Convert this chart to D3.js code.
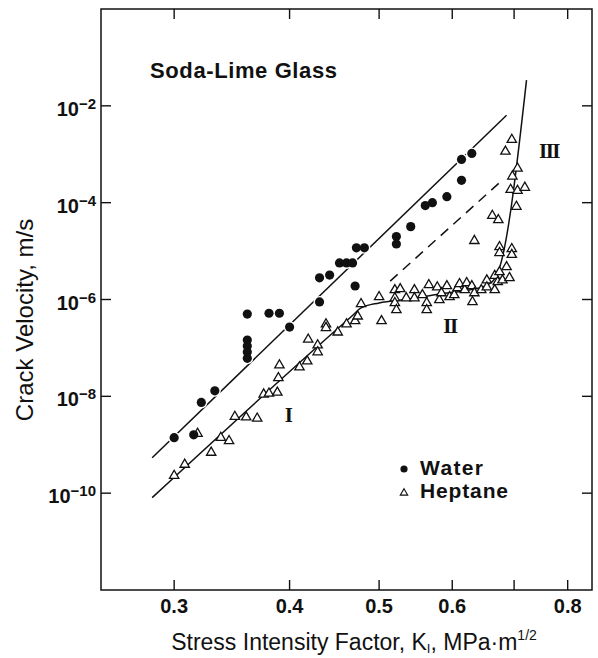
<!DOCTYPE html>
<html><head><meta charset="utf-8">
<script src="https://cdn.jsdelivr.net/npm/d3@7"></script>
<style>body{margin:0;background:#fff}svg{display:block}</style>
</head><body><svg id="c" width="598" height="658"></svg>
<script>
// ---- data ----
const xTicks = [0.3, 0.4, 0.5, 0.6, 0.7, 0.8];
const xTickLabels = ["0.3", "0.4", "0.5", "0.6", "", "0.8"];
const yTicks = [1e-2, 1e-4, 1e-6, 1e-8, 1e-10];
const yTickExponents = ["\u22122", "\u22124", "\u22126", "\u22128", "\u221210"];

const waterK = [0.300, 0.315, 0.321, 0.332, 0.360, 0.360, 0.360, 0.360, 0.360, 0.380, 0.390, 0.400, 0.431, 0.431, 0.442, 0.453, 0.461, 0.468, 0.471, 0.4725, 0.482, 0.522, 0.522, 0.541, 0.561, 0.571, 0.592, 0.614, 0.614, 0.630];
const waterV = [1.4e-9, 1.6e-9, 7.5e-9, 1.3e-8, 5.0e-7, 1.45e-7, 1.1e-7, 8.2e-8, 6.1e-8, 5.2e-7, 5.2e-7, 2.7e-7, 8.9e-7, 2.8e-6, 3.2e-6, 5.7e-6, 5.7e-6, 5.7e-6, 1.9e-6, 1.17e-5, 1.17e-5, 2.0e-5, 1.4e-5, 3.2e-5, 8.7e-5, 1.0e-4, 1.33e-4, 2.9e-4, 7.8e-4, 1.04e-3];

const heptaneK = [0.300, 0.308, 0.318, 0.329, 0.337, 0.344, 0.349, 0.359, 0.369, 0.375, 0.380, 0.388, 0.389, 0.390, 0.410, 0.418, 0.419, 0.429, 0.429, 0.438, 0.438, 0.451, 0.461, 0.471, 0.474, 0.478, 0.500, 0.503,
  0.520, 0.520, 0.520, 0.522, 0.527, 0.535, 0.546, 0.546, 0.557, 0.563, 0.563, 0.566, 0.578, 0.581, 0.584, 0.592, 0.596, 0.603, 0.608, 0.611, 0.619, 0.622, 0.630, 0.631, 0.634, 0.645, 0.654, 0.654, 0.667, 0.667, 0.675, 0.672, 0.680, 0.692, 0.687,
  0.675, 0.675, 0.696, 0.696, 0.634, 0.663, 0.673, 0.685, 0.696, 0.706, 0.697, 0.694, 0.706, 0.719, 0.704];
const heptaneV = [2.3e-10, 3.9e-10, 1.7e-9, 6.9e-10, 1.4e-9, 1.2e-9, 3.8e-9, 3.7e-9, 3.5e-9, 1.1e-8, 1.15e-8, 1.2e-8, 2.4e-8, 4.4e-8, 4.0e-8, 5.3e-8, 1.5e-7, 1.14e-7, 8.2e-8, 3.1e-7, 2.6e-7, 2.1e-7, 3.1e-7, 3.6e-7, 4.5e-7, 8.1e-7, 1.13e-6, 3.6e-7,
  1.57e-6, 1.07e-6, 8.5e-7, 6.1e-7, 1.65e-6, 1.07e-6, 1.57e-6, 1.07e-6, 1.24e-6, 8.5e-7, 6.1e-7, 2.0e-6, 1.8e-6, 9.8e-7, 1.36e-6, 1.9e-6, 1.13e-6, 1.24e-6, 1.73e-6, 2.1e-6, 1.57e-6, 2.2e-6, 1.9e-6, 8.9e-7, 1.36e-6, 1.57e-6, 2.5e-6, 1.8e-6, 3.1e-6, 1.57e-6, 3.7e-6, 2.3e-6, 2.5e-6, 2.8e-6, 4.7e-6,
  1.22e-5, 9.2e-6, 1.11e-5, 8.4e-6, 1.63e-5, 5.4e-5, 4.4e-5, 1.14e-3, 2.0e-3, 5.1e-4, 3.5e-4, 1.86e-4, 1.77e-4, 2.05e-4, 8.3e-5];

const waterFitK = [0.284, 0.687];
const waterFitV = [5.4e-10, 6.4e-3];
const heptaneFitK = [0.284, 0.453, 0.467, 0.478, 0.500, 0.539, 0.581, 0.626, 0.655, 0.668, 0.675, 0.722];
const heptaneFitV = [8.1e-11, 2.7e-7, 4.5e-7, 6.7e-7, 8.5e-7, 1.02e-6, 1.3e-6, 1.57e-6, 2.0e-6, 2.8e-6, 4.5e-6, 3.4e-2];
const extrapK = [0.514, 0.679];
const extrapV = [2.4e-6, 2.86e-4];

// ---- drawing ----
const svg = d3.select("#c");
const INK = "#111";
const SANS = "'Liberation Sans', Arial, Helvetica, sans-serif";
const SERIF = "'Liberation Serif', 'Times New Roman', serif";

const x = d3.scaleLog().domain([0.25, 0.85]).range([101, 592]);
const y = d3.scaleLog().domain([1e-12, 1]).range([590, 9]);
const [x0, x1] = x.range();
const [y0, y1] = y.range();

svg.append("rect").attr("width", 598).attr("height", 658).attr("fill", "#fff");

// frame
svg.append("rect").attr("x", x0).attr("y", y1).attr("width", x1 - x0).attr("height", y0 - y1)
  .attr("fill", "none").attr("stroke", INK).attr("stroke-width", 1.5);

// x ticks (bottom + top, inward)
const tk = 10;
xTicks.forEach((t, i) => {
  const px = x(t);
  svg.append("line").attr("x1", px).attr("x2", px).attr("y1", y0).attr("y2", y0 - tk).attr("stroke", INK).attr("stroke-width", 1.4);
  svg.append("line").attr("x1", px).attr("x2", px).attr("y1", y1).attr("y2", y1 + tk).attr("stroke", INK).attr("stroke-width", 1.4);
  if (xTickLabels[i]) {
    svg.append("text").attr("x", px).attr("y", 613).attr("text-anchor", "middle")
      .attr("font-family", SANS).attr("font-weight", "bold").attr("font-size", 20).attr("fill", INK)
      .text(xTickLabels[i]);
  }
});

// y ticks (left + right, inward)
yTicks.forEach((t, i) => {
  const py = y(t);
  svg.append("line").attr("x1", x0).attr("x2", x0 + tk).attr("y1", py).attr("y2", py).attr("stroke", INK).attr("stroke-width", 1.4);
  svg.append("line").attr("x1", x1).attr("x2", x1 - tk).attr("y1", py).attr("y2", py).attr("stroke", INK).attr("stroke-width", 1.4);
  const t0 = svg.append("text").attr("x", 96).attr("y", py + 10).attr("text-anchor", "end")
    .attr("font-family", SANS).attr("font-weight", "bold").attr("font-size", 20).attr("fill", INK);
  t0.append("tspan").text("10");
  t0.append("tspan").attr("dy", -7).attr("font-size", 15).text(yTickExponents[i]);
});

// axis titles
const xt = svg.append("text").attr("x", 354).attr("y", 650).attr("text-anchor", "middle")
  .attr("font-family", SANS).attr("font-size", 23).attr("fill", INK);
xt.append("tspan").text("Stress Intensity Factor, K");
xt.append("tspan").attr("dy", 3).attr("font-size", 13).text("I");
xt.append("tspan").attr("dy", -3).text(", MPa\u00b7m");
xt.append("tspan").attr("dy", -10).attr("font-size", 14).text("1/2");

svg.append("text").attr("transform", "translate(33,320) rotate(-90)").attr("text-anchor", "middle")
  .attr("font-family", SANS).attr("font-size", 24).attr("fill", INK)
  .text("Crack Velocity, m/s");

// title
svg.append("text").attr("x", 150).attr("y", 78)
  .attr("font-family", SANS).attr("font-weight", "bold").attr("font-size", 22).attr("fill", INK)
  .attr("textLength", 187).attr("lengthAdjust", "spacing")
  .text("Soda-Lime Glass");

// lines
const zip = (a, b) => a.map((v, i) => [v, b[i]]);
const line = d3.line().x(d => x(d[0])).y(d => y(d[1]));
const curve = d3.line().x(d => x(d[0])).y(d => y(d[1])).curve(d3.curveMonotoneX);

svg.append("path").datum(zip(waterFitK, waterFitV)).attr("d", line)
  .attr("fill", "none").attr("stroke", INK).attr("stroke-width", 1.5);
svg.append("path").datum(zip(heptaneFitK, heptaneFitV)).attr("d", curve)
  .attr("fill", "none").attr("stroke", INK).attr("stroke-width", 1.5);
svg.append("path").datum(zip(extrapK, extrapV)).attr("d", line)
  .attr("fill", "none").attr("stroke", INK).attr("stroke-width", 1.5).attr("stroke-dasharray", "10,7");

// water halo (breaks the line around dots)
const wd = zip(waterK, waterV);
svg.append("g").selectAll("circle").data(wd).join("circle")
  .attr("cx", d => x(d[0])).attr("cy", d => y(d[1])).attr("r", 6).attr("fill", "#fff");

// heptane triangles
const tri = d3.symbol().type(d3.symbolTriangle).size(38);
svg.append("g").selectAll("path").data(zip(heptaneK, heptaneV)).join("path")
  .attr("d", tri).attr("transform", d => `translate(${x(d[0])},${y(d[1])})`)
  .attr("fill", "#fff").attr("stroke", INK).attr("stroke-width", 1.3);

// water dots
svg.append("g").selectAll("circle").data(wd).join("circle")
  .attr("cx", d => x(d[0])).attr("cy", d => y(d[1])).attr("r", 4.6).attr("fill", INK);

// regime labels
const roman = (tx, px, py) => svg.append("text").attr("x", px).attr("y", py).attr("text-anchor", "middle")
  .attr("font-family", SERIF).attr("font-weight", "bold").attr("font-size", 21).attr("letter-spacing", -1.5).attr("fill", INK).text(tx);
roman("I", 288, 422);
roman("II", 450, 333);
roman("III", 549, 158);

// legend
svg.append("circle").attr("cx", 404).attr("cy", 469).attr("r", 3.6).attr("fill", INK);
svg.append("path").attr("d", d3.symbol().type(d3.symbolTriangle).size(24)).attr("transform", "translate(404,493)")
  .attr("fill", "#fff").attr("stroke", INK).attr("stroke-width", 1.1);
svg.append("text").attr("x", 420).attr("y", 475).attr("font-family", SANS).attr("font-weight", "bold")
  .attr("font-size", 21).attr("fill", INK).attr("textLength", 63).attr("lengthAdjust", "spacing").text("Water");
svg.append("text").attr("x", 420).attr("y", 498).attr("font-family", SANS).attr("font-weight", "bold")
  .attr("font-size", 21).attr("fill", INK).attr("textLength", 88).attr("lengthAdjust", "spacing").text("Heptane");
</script>
</body></html>
